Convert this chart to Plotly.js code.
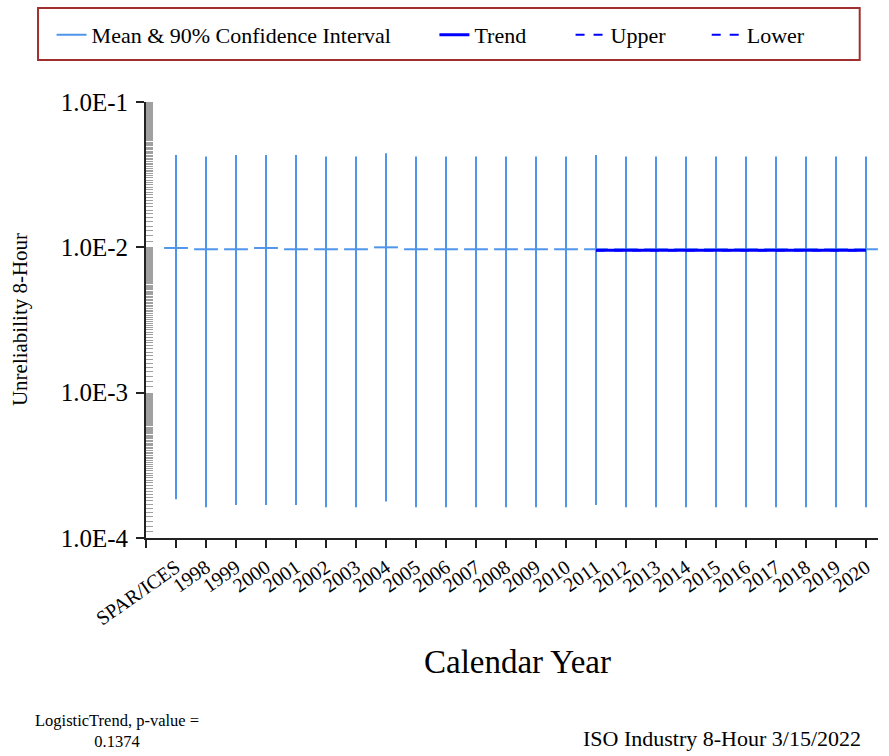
<!DOCTYPE html>
<html>
<head>
<meta charset="utf-8">
<script src="https://cdn.plot.ly/plotly-3.0.1.min.js"></script>
<style>html,body{margin:0;padding:0;background:#fff;}#chart{width:889px;height:756px;}</style>
</head>
<body>
<div id="chart"></div>
<script>
// ---- data ----
var categories = ["SPAR/ICES","1998","1999","2000","2001","2002","2003","2004","2005","2006","2007","2008","2009","2010","2011","2012","2013","2014","2015","2016","2017","2018","2019","2020"];
var meanVals  = [0.0099,0.0097,0.0097,0.0099,0.0097,0.0097,0.0097,0.0100,0.0097,0.0097,0.0097,0.0097,0.0097,0.0097,0.0097,0.0097,0.0097,0.0097,0.0097,0.0097,0.0097,0.0097,0.0097,0.0097];
var upperVals = [0.0432,0.0421,0.0432,0.0432,0.0432,0.0421,0.0421,0.0444,0.0421,0.0421,0.0421,0.0421,0.0421,0.0421,0.0432,0.0421,0.0421,0.0421,0.0421,0.0421,0.0421,0.0421,0.0421,0.0421];
var lowerVals = [1.85e-4,1.63e-4,1.69e-4,1.69e-4,1.69e-4,1.63e-4,1.63e-4,1.78e-4,1.63e-4,1.63e-4,1.63e-4,1.63e-4,1.63e-4,1.63e-4,1.69e-4,1.63e-4,1.63e-4,1.63e-4,1.63e-4,1.63e-4,1.63e-4,1.63e-4,1.63e-4,1.63e-4];
var trendYears = ["2011","2012","2013","2014","2015","2016","2017","2018","2019","2020"];
var trendVals  = [0.00955,0.00955,0.00955,0.00955,0.00955,0.00955,0.00955,0.00955,0.00955,0.00955];
var trendUpper = [0.00960,0.00960,0.00960,0.00960,0.00960,0.00960,0.00960,0.00960,0.00960,0.00960];
var trendLower = [0.00950,0.00950,0.00950,0.00950,0.00950,0.00950,0.00950,0.00950,0.00950,0.00950];
var yTickVals = [1e-4,1e-3,1e-2,1e-1];
var yTickText = ["1.0E-4","1.0E-3","1.0E-2","1.0E-1"];

// ---- build ----
var xIdx = categories.map(function(c,i){return i;});
var trendIdx = trendYears.map(function(y){return categories.indexOf(y);});
var errPlus = upperVals.map(function(u,i){return u-meanVals[i];});
var errMinus = lowerVals.map(function(l,i){return meanVals[i]-l;});
var ciColor = "#4f95ec";
var FONT = "Liberation Serif";

var minorVals = [];
for (var d=-4; d<-1; d++){
  var base = Math.pow(10,d);
  for (var k=11; k<100; k++){ minorVals.push(base*k/10); }
}

var traces = [
  {x:xIdx, y:meanVals, type:"scatter", mode:"markers", showlegend:false, hoverinfo:"skip",
   marker:{symbol:"line-ew", size:17, line:{width:2, color:ciColor}, color:ciColor},
   error_y:{type:"data", symmetric:false, array:errPlus, arrayminus:errMinus, width:0, thickness:2, color:ciColor}},
  {x:[null], y:[null], type:"scatter", mode:"lines", name:"Mean & 90% Confidence Interval", legend:"legend", line:{color:ciColor, width:2}},
  {x:trendIdx, y:trendVals, type:"scatter", mode:"lines", name:"Trend", legend:"legend2", line:{color:"#0000ff", width:3}},
  {x:trendIdx, y:trendUpper, type:"scatter", mode:"lines", name:"Upper", legend:"legend3", line:{color:"#0000ff", width:2, dash:"dash"}},
  {x:trendIdx, y:trendLower, type:"scatter", mode:"lines", name:"Lower", legend:"legend4", line:{color:"#0000ff", width:2, dash:"dash"}}
];

function leg(x){
  return {orientation:"h", x:x, y:1.202, xanchor:"left", yanchor:"top", font:{family:FONT, size:22, color:"#000"}, bgcolor:"rgba(0,0,0,0)"};
}

var layout = {
  width:889, height:756,
  margin:{l:146, r:11, t:102, b:218},
  paper_bgcolor:"#fff", plot_bgcolor:"#fff",
  font:{family:FONT, color:"#000"},
  showlegend:true,
  legend:leg(-0.129), legend2:leg(0.394), legend3:leg(0.580), legend4:leg(0.766),
  xaxis:{range:[-1,23.4], tickmode:"array", tickvals:[-1].concat(xIdx), ticktext:[""].concat(categories),
    tickangle:-35, ticks:"outside", ticklen:8, tickwidth:2, tickcolor:"#222", showline:true, linecolor:"#222", linewidth:2,
    showgrid:false, zeroline:false, tickfont:{family:FONT, size:20, color:"#000"}},
  yaxis:{type:"log", range:[-4,-1], tickmode:"array", tickvals:yTickVals, ticktext:yTickText,
    ticks:"outside", ticklen:8, tickwidth:2, tickcolor:"#222", showline:true, linecolor:"#222", linewidth:2,
    showgrid:false, zeroline:false, tickfont:{family:FONT, size:25, color:"#000"}, ticklabelstandoff:3,
    minor:{tickmode:"array", tickvals:minorVals, ticks:"inside", ticklen:7, tickwidth:1, tickcolor:"#a0a0a0", showgrid:false}},
  shapes:[{type:"rect", xref:"paper", yref:"paper", x0:-0.1475, x1:0.975, y0:1.0963, y1:1.2156, line:{color:"#a03030", width:2}}],
  annotations:[
    {text:"Calendar Year", xref:"paper", yref:"paper", x:0.508, y:-0.284, showarrow:false, font:{family:FONT, size:33, color:"#000"}, xanchor:"center", yanchor:"middle"},
    {text:"Unreliability 8-Hour", xref:"paper", yref:"paper", x:-0.172, y:0.5, textangle:-90, showarrow:false, font:{family:FONT, size:21, color:"#000"}, xanchor:"center", yanchor:"middle"},
    {text:"LogisticTrend, p-value =<br>0.1374", xref:"paper", yref:"paper", x:-0.04, y:-0.443, showarrow:false, font:{family:FONT, size:16.5, color:"#000"}, xanchor:"center", yanchor:"middle", align:"center"},
    {text:"ISO Industry 8-Hour 3/15/2022", xref:"paper", yref:"paper", x:0.98, y:-0.459, showarrow:false, font:{family:FONT, size:22, color:"#000"}, xanchor:"right", yanchor:"middle"}
  ]
};

Plotly.newPlot("chart", traces, layout, {displayModeBar:false, staticPlot:true});
</script>
</body>
</html>
